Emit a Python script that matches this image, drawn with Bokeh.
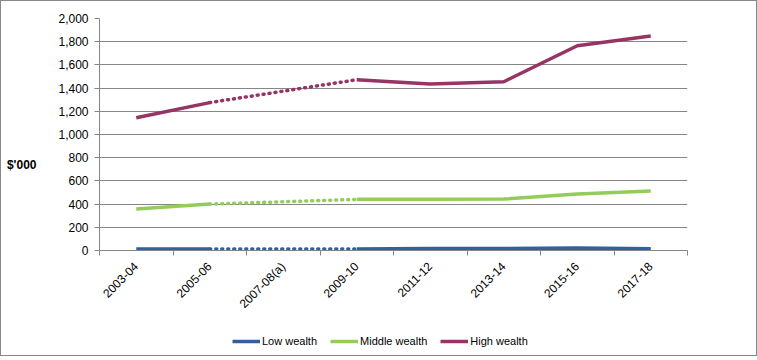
import math
from bokeh.plotting import figure
from bokeh.layouts import column
from bokeh.models import (Range1d, FixedTicker, NumeralTickFormatter, Legend, LegendItem, LinearAxis)
from bokeh.embed import file_html
from bokeh.resources import INLINE

categories = ["2003-04", "2005-06", "2007-08(a)", "2009-10", "2011-12", "2013-14", "2015-16", "2017-18"]
nan = float("nan")
low = [12, 12, nan, 12, 17, 17, 22, 16]
middle = [358, 400, nan, 441, 441, 443, 488, 512]
high = [1145, 1275, nan, 1472, 1436, 1455, 1765, 1850]
y_ticks = list(range(0, 2001, 200))
y_title = "$'000"
y_title_at = 733

series = [("Low wealth", low, "#31609A"), ("Middle wealth", middle, "#94CC5C"), ("High wealth", high, "#963464")]

xs = [i + 0.5 for i in range(len(categories))]
FONT = "Liberation Sans"

p = figure(width=757, height=326, output_backend="svg", toolbar_location=None,
           x_range=Range1d(0, len(categories)), y_range=Range1d(0, 2000),
           min_border_left=99, min_border_right=70, min_border_top=18, min_border_bottom=76)
p.outline_line_color = None
p.border_fill_alpha = 0

p.xgrid.grid_line_color = None
p.ygrid.grid_line_color = "#868686"
p.ygrid.grid_line_width = 1

# y axis
p.yaxis.ticker = FixedTicker(ticks=y_ticks)
p.yaxis.formatter = NumeralTickFormatter(format="0,0")
p.yaxis.axis_line_color = "#868686"
p.yaxis.major_tick_line_color = "#868686"
p.yaxis.major_tick_out = 5
p.yaxis.major_tick_in = 0
p.yaxis.minor_tick_line_color = None
p.yaxis.major_label_text_font = FONT
p.yaxis.major_label_text_font_size = "12px"
p.yaxis.major_label_text_color = "#000000"
p.yaxis.major_label_standoff = 6

# horizontal y title, drawn as the single label of an outer axis
title_axis = LinearAxis(ticker=FixedTicker(ticks=[y_title_at]),
                        major_label_overrides={y_title_at: y_title},
                        axis_line_color=None, major_tick_line_color=None,
                        minor_tick_line_color=None,
                        major_label_text_font=FONT, major_label_text_font_size="12px",
                        major_label_text_font_style="bold", major_label_text_color="#000000",
                        major_label_standoff=13)
p.add_layout(title_axis, "left")

# x axis
p.xaxis.ticker = FixedTicker(ticks=xs, minor_ticks=list(range(len(categories) + 1)))
p.xaxis.major_label_overrides = {x: c for x, c in zip(xs, categories)}
p.xaxis.major_tick_line_color = None
p.xaxis.minor_tick_line_color = "#868686"
p.xaxis.minor_tick_out = 5
p.xaxis.minor_tick_in = 0
p.xaxis.axis_line_color = "#868686"
p.xaxis.major_label_orientation = math.pi / 4
p.xaxis.major_label_text_font = FONT
p.xaxis.major_label_text_font_size = "12px"
p.xaxis.major_label_text_color = "#000000"
p.xaxis.major_label_standoff = 8

for name, vals, color in series:
    p.line(xs, vals, line_color=color, line_width=3.5)
    p.line([xs[1], xs[3]], [vals[1], vals[3]], line_color=color, line_width=3.5,
           line_dash="1 5", line_cap="round")

# legend strip
q = figure(width=757, height=30, output_backend="svg", toolbar_location=None,
           x_range=Range1d(0, 1), y_range=Range1d(0, 1), min_border=0)
q.axis.visible = False
q.grid.grid_line_color = None
q.outline_line_color = None
q.background_fill_alpha = 0
q.border_fill_alpha = 0
items = []
for name, vals, color in series:
    r = q.line(x=[nan], y=[nan], line_color=color, line_width=3.5)
    items.append(LegendItem(label=name, renderers=[r]))
legend = Legend(items=items, orientation="horizontal", location=(133, 8),
                border_line_color=None, background_fill_alpha=0,
                label_text_font=FONT, label_text_font_size="11px", label_text_color="#000000",
                glyph_width=28, glyph_height=14, label_height=14,
                spacing=13, label_standoff=2, padding=0, margin=0)
q.add_layout(legend, "center")

layout = column(p, q, spacing=0)
layout.styles = {"box-shadow": "inset 0 0 0 1px #888888"}

open("out.html", "w").write(file_html(layout, INLINE))
